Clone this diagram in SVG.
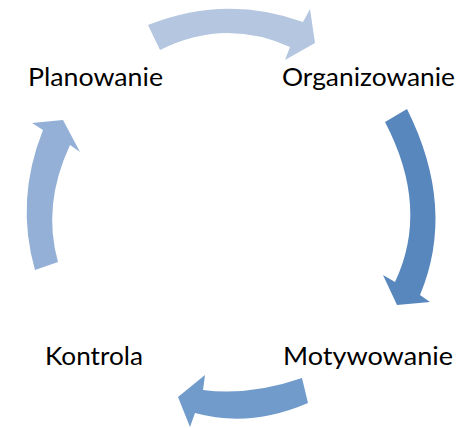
<svg xmlns="http://www.w3.org/2000/svg" width="472" height="428" viewBox="0 0 472 428">
<style>
.lbl{font-family:Lato,"Liberation Sans",Arial,sans-serif;font-size:25px;fill:#000}
</style>
<rect width="472" height="428" fill="#fff"/>
<g id="connectors">
<path id="arrow-top" d="M148,25 Q226,-6 303,22 L310,9 L315,43 L285,60 L290,47 Q225,17.5 160,50 Z" fill="#b4c6e0"/>
<path id="arrow-right" d="M385,122 L407,109 Q456.5,208 420,295 L430,302 L397,305 L383,275 L395,282 Q430,208 385,122 Z" fill="#5887be"/>
<path id="arrow-bottom" d="M302,378 Q250,396 203,390 L205,375 L178,397 L190,427 L195,413 Q250,428 308,403 Z" fill="#709bcb"/>
<path id="arrow-left" d="M35,270 Q15,200 43,130 L32,123 L63,120 L80,152 L70,145 Q42,205 58,262 Z" fill="#94b0d6"/>
</g>
<g id="planowanie"><text class="lbl" x="28" y="86" textLength="135" lengthAdjust="spacingAndGlyphs">Planowanie</text></g>
<g id="organizowanie"><text class="lbl" x="282" y="86" textLength="173" lengthAdjust="spacingAndGlyphs">Organizowanie</text></g>
<g id="motywowanie"><text class="lbl" x="283" y="365" textLength="170" lengthAdjust="spacingAndGlyphs">Motywowanie</text></g>
<g id="kontrola"><text class="lbl" x="45" y="365" textLength="98" lengthAdjust="spacingAndGlyphs">Kontrola</text></g>
</svg>
